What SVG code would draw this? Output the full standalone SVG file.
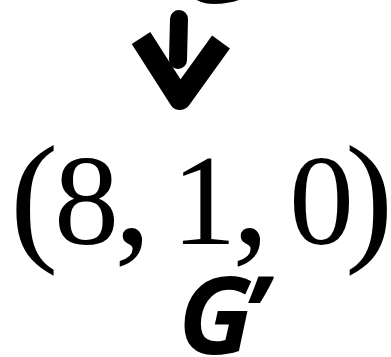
<svg xmlns="http://www.w3.org/2000/svg" width="391" height="357" viewBox="0 0 391 357">
<style>
.lbl{font-family:"Open Sans","Noto Sans",sans-serif;font-weight:700;font-style:italic;font-size:108px;fill:#000}
.math{font-family:"Liberation Serif","Times New Roman",serif;fill:#000}
.brush{fill:none;stroke:#000;stroke-linejoin:round}
</style>
<rect width="391" height="357" fill="#fff"/>
<g id="node-G">
<text class="lbl" x="178" y="3">G</text>
</g>
<g id="connectors">
<path class="brush" d="M179,19 L178,60" stroke-width="18" stroke-linecap="round"/>
<polyline class="brush" points="141,38 180,99 221,42" stroke-width="22" stroke-linecap="butt"/>
</g>
<g id="node-tuple" class="math">
<text x="10" y="245" font-size="145">(</text>
<text x="86.5" y="243.5" font-size="130" text-anchor="middle">8</text>
<text x="114" y="244" font-size="150">,</text>
<text x="204" y="243.5" font-size="130" text-anchor="middle">1</text>
<text x="232" y="244" font-size="150">,</text>
<text x="321.5" y="243.5" font-size="130" text-anchor="middle">0</text>
<text x="345" y="245" font-size="145">)</text>
</g>
<g id="node-Gprime">
<text class="lbl" x="178" y="354">G<tspan dx="-10">’</tspan></text>
</g>
</svg>
